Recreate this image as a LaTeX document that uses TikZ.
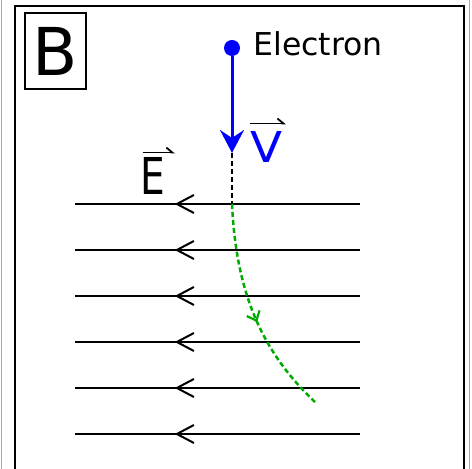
\documentclass[tikz,border=0pt]{standalone}
\usepackage{fontspec}
\setmainfont{DejaVu Sans}
\usetikzlibrary{arrows.meta, decorations.markings}
\definecolor{elblue}{RGB}{0,0,255}
\definecolor{pathgreen}{RGB}{0,170,0}
\definecolor{edgegray}{RGB}{170,170,170}
\tikzstyle{fieldline}=[line width=1pt, postaction={decorate}, decoration={markings, mark=at position 0.65 with {\arrow{Straight Barb[length=8.5pt, width=9pt, line width=1pt]}}}]
\tikzstyle{lbl}=[inner sep=0pt, anchor=base west]
\tikzstyle{harpoon}=[line width=0.9pt, -{Straight Barb[left, length=3pt, width=5pt]}]

\begin{document}
\begin{tikzpicture}[x=0.5pt, y=-0.5pt]
        \useasboundingbox (0,0) rectangle (472,469);
        \draw[edgegray, line width=0.75pt] (1.5,0) -- (1.5,469);
        \draw[edgegray, line width=0.75pt] (469.5,0) -- (469.5,469);
        \draw[line width=0.6pt] (15,469) -- (15,6) -- (464,6) -- (464,469);
        \node[draw, line width=0.6pt, minimum width=30.5pt, minimum height=38pt, inner sep=0pt, text depth=0pt, font=\fontsize{33}{36}\selectfont] (panel) at (55.5,51) {B};
        % electron and its velocity
        \node[circle, fill=elblue, inner sep=0pt, minimum size=8pt] (e) at (232,48) {};
        \node[lbl, font=\fontsize{15.75}{18}\selectfont] (elab) at (253,56) {Electron};
        \coordinate (vtip) at (232,153);
        \coordinate (hit) at (232,204);
        \coordinate (out) at (315,402);
        \draw[elblue, line width=1.5pt, -{Stealth[length=11.5pt, width=12pt, inset=4pt]}] (e) -- (vtip);
        \node[lbl, elblue, xscale=1.1, font=\fontsize{21.3}{24}\selectfont] (v) at (250,163) {V};
        \draw[harpoon] ([yshift=4pt]v.north west) -- ([xshift=1.5pt, yshift=4pt]v.north east);
        \draw[line width=1.1pt, dash pattern=on 2.5pt off 1.5pt] (vtip) -- (hit);
        % field lines
        \foreach \i/\y in {1/204, 2/250, 3/296, 4/342, 5/388, 6/434} {
            \coordinate (r\i) at (360,\y);
            \coordinate (l\i) at (75,\y);
            \draw[fieldline] (r\i) -- (l\i);
        }
        \node[lbl, xscale=0.77, font=\fontsize{25.4}{28}\selectfont] (E) at (140.5,195) {E};
        \draw[harpoon] ([xshift=1pt, yshift=2.5pt]E.north west) -- ([xshift=4.5pt, yshift=2.5pt]E.north east);
        % deflected path
        \draw[pathgreen, line width=1.25pt, dash pattern=on 2.5pt off 1.5pt, postaction={decorate}, decoration={markings, mark=at position 0.55 with {\arrow[solid]{Straight Barb[length=4pt, width=7pt, line width=1.1pt]}}}] (hit) .. controls (236,290) and (260,350) .. (out);
    \end{tikzpicture}
\end{document}
